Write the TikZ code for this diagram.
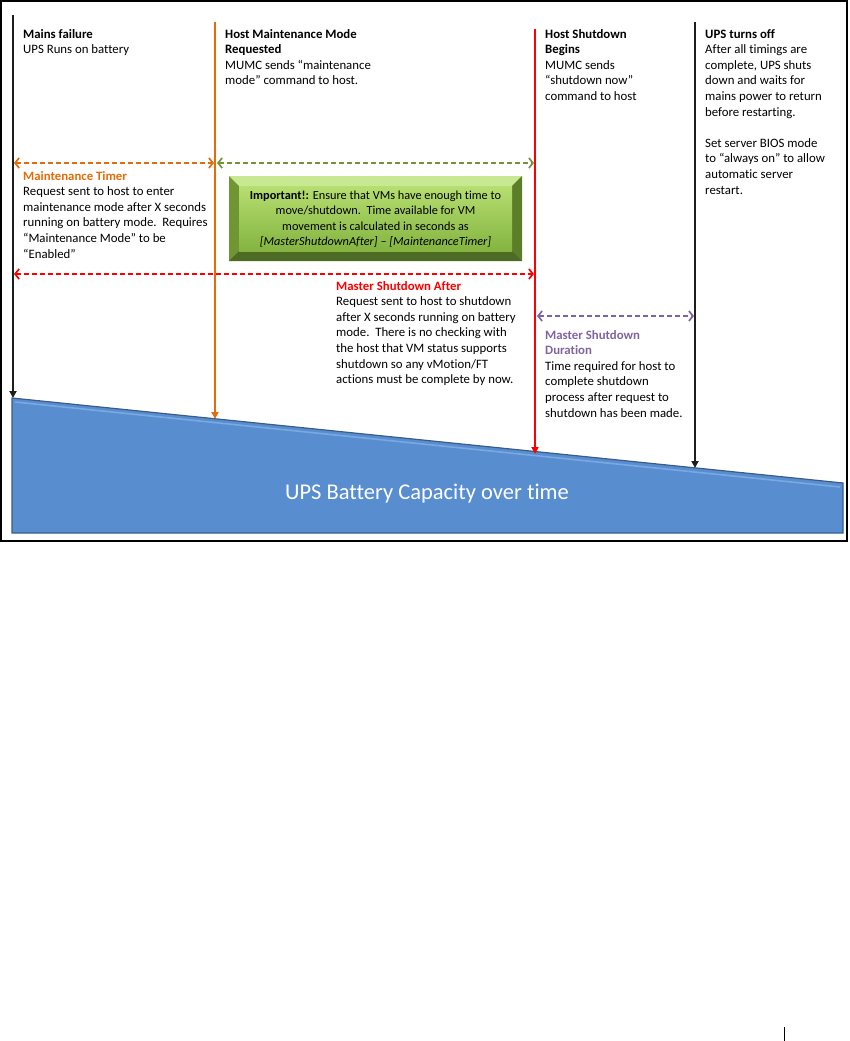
\documentclass[tikz,border=0pt]{standalone}
\usepackage{fontspec}
\setmainfont{Carlito}[Ligatures=NoCommon]
\usetikzlibrary{arrows.meta}

\definecolor{tlOrange}{RGB}{228,108,10}
\definecolor{tlRed}{RGB}{255,0,0}
\definecolor{tlGreen}{RGB}{118,146,60}
\definecolor{tlPurple}{RGB}{128,100,162}
\definecolor{tlBlack}{RGB}{30,30,30}
\definecolor{batFill}{RGB}{88,142,208}
\definecolor{batEdge}{RGB}{56,93,138}
\definecolor{batLight}{RGB}{122,168,226}
\definecolor{noteTop}{RGB}{182,222,112}
\definecolor{noteBot}{RGB}{132,180,64}
\definecolor{noteLight}{RGB}{200,232,146}
\definecolor{noteDark}{RGB}{92,126,42}
\definecolor{noteMid}{RGB}{112,150,52}

\begin{document}
\begin{tikzpicture}
    [ x=1pt, y=-1pt
    , txt/.style={anchor=north west, inner sep=0pt, align=left,
        font=\fontsize{12.8}{15.6}\selectfont}
    , event/.style={line width=2.8pt, -{Triangle[length=7pt,width=7pt]}}
    , span/.style={line width=1.7pt, dash pattern=on 5pt off 3pt,
        {Straight Barb[length=4pt,width=10pt]}-{Straight Barb[length=4pt,width=10pt]}}
    ]
\useasboundingbox (0,0) rectangle (849,1041);
\draw[line width=1.3pt] (1,1) rectangle (847,541);

% battery
\fill[batFill] (12,398) -- (843,483) -- (843,533) -- (12,533) -- cycle;
\draw[batLight, line width=1.6pt] (15,402) -- (840,487);
\draw[batEdge, line width=1.2pt] (12,398) -- (843,483) -- (843,533) -- (12,533) -- cycle;
\node[text=white, font=\fontsize{22.5}{26}\selectfont] (battery) at (427,494)
    {UPS Battery Capacity over time};

% timeline
\coordinate (mainsTop) at (13,15);  \coordinate (mainsBot) at (13,398);
\coordinate (maintTop) at (215,22); \coordinate (maintBot) at (215,419);
\coordinate (shutTop) at (535,29);  \coordinate (shutBot) at (535,454);
\coordinate (offTop) at (695,22);   \coordinate (offBot) at (695,468);

\draw[event, tlBlack] (mainsTop) -- (mainsBot);
\draw[event, tlOrange] (maintTop) -- (maintBot);
\draw[event, tlRed] (shutTop) -- (shutBot);
\draw[event, tlBlack] (offTop) -- (offBot);

% spans
\coordinate (maintL) at (14,163);  \coordinate (maintR) at (214,163);
\coordinate (vmL) at (217,163);    \coordinate (vmR) at (534,163);
\coordinate (masterL) at (14,274); \coordinate (masterR) at (534,274);
\coordinate (durL) at (537,316);   \coordinate (durR) at (694,316);

\draw[span, tlOrange] (maintL) -- (maintR);
\draw[span, tlGreen] (vmL) -- (vmR);
\draw[span, tlRed] (masterL) -- (masterR);
\draw[span, tlPurple] (durL) -- (durR);

% important box
\coordinate (noteNW) at (229,176);
\coordinate (noteSE) at (522,261);
\fill[noteMid] (noteNW) rectangle (noteSE);
\fill[noteLight] (229,176) -- (522,176) -- (512,186) -- (239,186) -- cycle;
\fill[noteDark] (522,176) -- (522,261) -- (512,251) -- (512,186) -- cycle;
\fill[noteDark!85!black] (229,261) -- (522,261) -- (512,251) -- (239,251) -- cycle;
\shade[top color=noteTop, bottom color=noteBot] (239,186) rectangle (512,251);
\node[align=center, inner sep=0pt, font=\fontsize{12.3}{15.4}\selectfont]
    (note) at (375.5,219)
    {\textbf{Important!:} Ensure that VMs have enough time to\\
     move/shutdown.\ \ Time available for VM\\
     movement is calculated in seconds as\\
     \textit{[MasterShutdownAfter] -- [MaintenanceTimer]}};

% texts
\node[txt] (mains) at (23,29)
    {\textbf{Mains failure}\\UPS Runs on battery};
\node[txt] (maintMode) at (225,29)
    {\textbf{Host Maintenance Mode}\\\textbf{Requested}\\
     MUMC sends “maintenance\\mode” command to host.};
\node[txt] (shutBegins) at (545,29)
    {\textbf{Host Shutdown}\\\textbf{Begins}\\MUMC sends\\“shutdown now”\\command to host};
\node[txt] (upsOff) at (705,29)
    {\textbf{UPS turns off}\\After all timings are\\complete, UPS shuts\\
     down and waits for\\mains power to return\\before restarting.\\[15.6pt]
     Set server BIOS mode\\to “always on” to allow\\automatic server\\restart.};
\node[txt] (maintTimer) at (23,171)
    {\textcolor{tlOrange}{\textbf{Maintenance Timer}}\\
     Request sent to host to enter\\maintenance mode after X seconds\\
     running on battery mode.\ \ Requires\\“Maintenance Mode” to be\\“Enabled”};
\node[txt] (masterAfter) at (336,281)
    {\textcolor{tlRed}{\textbf{Master Shutdown After}}\\
     Request sent to host to shutdown\\after X seconds running on battery\\
     mode.\ \ There is no checking with\\the host that VM status supports\\
     shutdown so any vMotion/FT\\actions must be complete by now.};
\node[txt] (masterDur) at (545,330)
    {\textcolor{tlPurple}{\textbf{Master Shutdown}}\\\textcolor{tlPurple}{\textbf{Duration}}\\
     Time required for host to\\complete shutdown\\process after request to\\
     shutdown has been made.};

% page mark
\coordinate (markTop) at (784,1027);
\coordinate (markBot) at (784,1041);
\draw[line width=1pt] (markTop) -- (markBot);
\end{tikzpicture}
\end{document}
